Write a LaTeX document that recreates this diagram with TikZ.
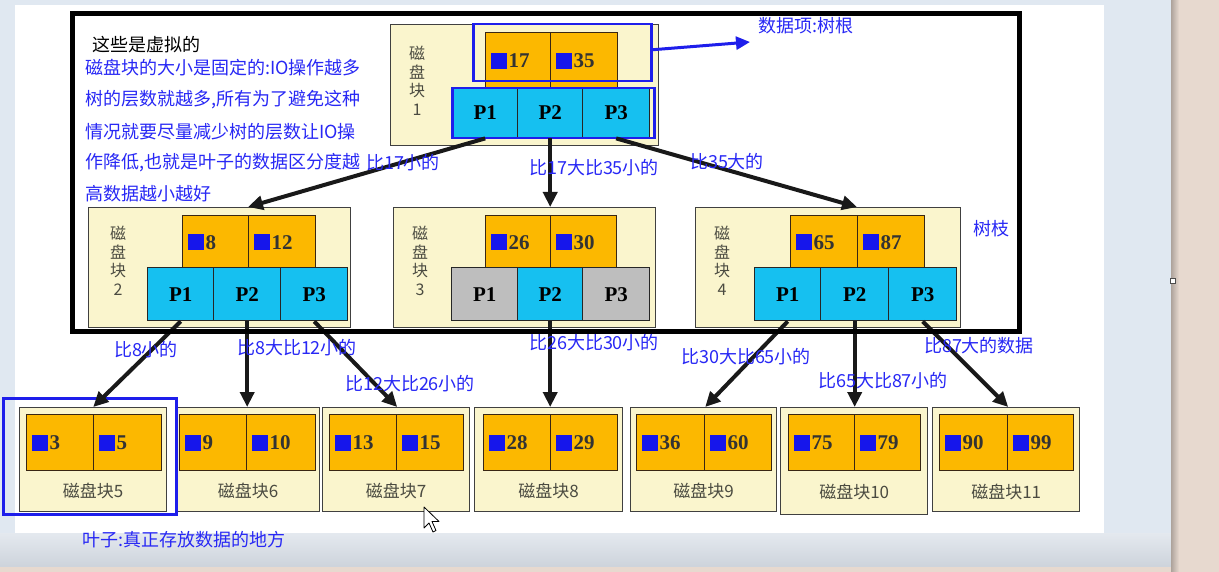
\documentclass[tikz,border=0pt]{standalone}
\usepackage{fontspec}
\setmainfont{Liberation Serif}
\newfontfamily\cjk{Noto Sans CJK SC}
\usetikzlibrary{arrows.meta}
\definecolor{blockyellow}{RGB}{250,245,205}
\definecolor{keyorange}{RGB}{252,184,0}
\definecolor{ptrcyan}{RGB}{22,192,240}
\definecolor{ptrgray}{RGB}{190,190,190}
\definecolor{sqblue}{RGB}{22,22,235}
\definecolor{labelblue}{RGB}{40,40,245}
\definecolor{hlblue}{RGB}{30,30,235}
\definecolor{bgblue}{RGB}{224,232,241}
\definecolor{bandtop}{RGB}{228,233,239}
\definecolor{bandbot}{RGB}{205,211,219}
\definecolor{bgbeige}{RGB}{231,217,207}
\definecolor{lbgray}{RGB}{75,75,65}
\newcommand{\keysq}{{\color{sqblue}\rule[-1pt]{16pt}{16pt}}}
\newcommand{\okey}[6]{%
  \node[keycell,minimum width=#4,minimum height=#5,anchor=north west] (#1) at (#2,#3) {};
  \node[keytxt,anchor=west] (#1t) at ([xshift=6pt]#1.west) {\keysq\hspace{1.5pt}#6};}
\newcommand{\pcell}[7]{%
  \node[ptrcell,fill=#7,minimum width=#4,minimum height=#5,anchor=north west] (#1) at (#2,#3) {#6};}
\tikzset{
  keycell/.style={draw=black!70!brown, fill=keyorange, line width=1.2pt, inner sep=0pt},
  ptrcell/.style={draw=black!85, line width=1.4pt, inner sep=0pt, font=\bfseries\fontsize{21}{21}\selectfont},
  keytxt/.style={inner sep=0pt, font=\bfseries\fontsize{21}{21}\selectfont, text=black!80},
  blockbox/.style={draw=black!75, fill=blockyellow, line width=1.4pt, inner sep=0pt},
  vlabel/.style={align=center, text=lbgray, font=\cjk\fontsize{16}{18.5}\selectfont, inner sep=0pt},
  leaflabel/.style={text=lbgray, font=\cjk\fontsize{17}{17}\selectfont, inner sep=0pt},
  note/.style={text=labelblue, font=\cjk\fontsize{18}{18}\selectfont, inner sep=0pt},
  treearrow/.style={line width=4pt, -{Triangle[length=15pt,width=14pt]}, black!90},
  bluearrow/.style={line width=3pt, -{Triangle[length=14pt,width=13pt]}, hlblue},
  hlbox/.style={draw=hlblue, line width=2.5pt, inner sep=0pt},
}
\begin{document}
\begin{tikzpicture}[x=1pt,y=-1pt]
\useasboundingbox (0,0) rectangle (1219,572);
% background
\fill[bgblue] (0,0) rectangle (1219,572);
\fill[white] (15,5) rectangle (1104,533);
\shade[top color=bandtop, bottom color=bandbot] (0,533) rectangle (1171,567);
\fill[bgbeige] (0,567) rectangle (1219,572);
\fill[bgbeige] (1171,0) rectangle (1219,572);
\shade[left color=black!25!bgbeige, right color=bgbeige] (1171,0) rectangle (1179,572);
\draw[fill=white, draw=black!70, line width=1pt] (1170.5,278.5) rectangle (1175.5,283.5);

% root block
\node[blockbox, minimum width=268, minimum height=121, anchor=north west] (b1) at (390,24) {};
\node[vlabel] (b1l) at (417,81) {磁\\盘\\块\\1};
\okey{k1a}{485}{32}{65}{56}{17}
\okey{k1b}{550}{32}{67}{56}{35}
\pcell{p1a}{452}{87}{65}{50}{P1}{ptrcyan}
\pcell{p1b}{517}{87}{65}{50}{P2}{ptrcyan}
\pcell{p1c}{582}{87}{67}{50}{P3}{ptrcyan}
\node[hlbox, minimum width=178, minimum height=57, anchor=north west] (h1) at (472,23) {};
\node[hlbox, minimum width=202, minimum height=50, anchor=north west] (h2) at (451,87) {};

% level 2
\node[blockbox, minimum width=262, minimum height=120, anchor=north west] (b2) at (88,207) {};
\node[vlabel] (b2l) at (118,261) {磁\\盘\\块\\2};
\okey{k2a}{182}{215}{66}{53}{8}
\okey{k2b}{248}{215}{67}{53}{12}
\pcell{p2a}{147}{267}{66}{53}{P1}{ptrcyan}
\pcell{p2b}{213}{267}{67}{53}{P2}{ptrcyan}
\pcell{p2c}{280}{267}{67}{53}{P3}{ptrcyan}

\node[blockbox, minimum width=262, minimum height=120, anchor=north west] (b3) at (393,207) {};
\node[vlabel] (b3l) at (420,261) {磁\\盘\\块\\3};
\okey{k3a}{485}{215}{65}{53}{26}
\okey{k3b}{550}{215}{66}{53}{30}
\pcell{p3a}{451}{267}{66}{53}{P1}{ptrgray}
\pcell{p3b}{517}{267}{65}{53}{P2}{ptrcyan}
\pcell{p3c}{582}{267}{67}{53}{P3}{ptrgray}

\node[blockbox, minimum width=265, minimum height=120, anchor=north west] (b4) at (695,207) {};
\node[vlabel] (b4l) at (722,261) {磁\\盘\\块\\4};
\okey{k4a}{790}{215}{67}{53}{65}
\okey{k4b}{857}{215}{67}{53}{87}
\pcell{p4a}{754}{267}{66}{53}{P1}{ptrcyan}
\pcell{p4b}{820}{267}{68}{53}{P2}{ptrcyan}
\pcell{p4c}{888}{267}{68}{53}{P3}{ptrcyan}

% leaves
\node[blockbox, minimum width=147, minimum height=104, anchor=north west] (b5) at (19,407) {};
\okey{k5a}{26}{414}{67}{56}{3}
\okey{k5b}{93}{414}{68}{56}{5}
\node[leaflabel] (b5l) at (b5.center |- 0,491) {磁盘块5};

\node[blockbox, minimum width=143, minimum height=104, anchor=north west] (b6) at (176,407) {};
\okey{k6a}{179}{414}{67}{56}{9}
\okey{k6b}{246}{414}{69}{56}{10}
\node[leaflabel] (b6l) at (b6.center |- 0,491) {磁盘块6};

\node[blockbox, minimum width=147, minimum height=104, anchor=north west] (b7) at (322,407) {};
\okey{k7a}{329}{414}{67}{56}{13}
\okey{k7b}{396}{414}{67}{56}{15}
\node[leaflabel] (b7l) at (b7.center |- 0,491) {磁盘块7};

\node[blockbox, minimum width=148, minimum height=104, anchor=north west] (b8) at (474,407) {};
\okey{k8a}{483}{414}{67}{56}{28}
\okey{k8b}{550}{414}{67}{56}{29}
\node[leaflabel] (b8l) at (b8.center |- 0,491) {磁盘块8};

\node[blockbox, minimum width=146, minimum height=104, anchor=north west] (b9) at (630,407) {};
\okey{k9a}{636}{414}{68}{56}{36}
\okey{k9b}{704}{414}{67}{56}{60}
\node[leaflabel] (b9l) at (b9.center |- 0,491) {磁盘块9};

\node[blockbox, minimum width=147, minimum height=107, anchor=north west] (b10) at (780,407) {};
\okey{k10a}{788}{414}{66}{56}{75}
\okey{k10b}{854}{414}{66}{56}{79}
\node[leaflabel] (b10l) at (b10.center |- 0,492) {磁盘块10};

\node[blockbox, minimum width=147, minimum height=104, anchor=north west] (b11) at (932,407) {};
\okey{k11a}{939}{414}{68}{56}{90}
\okey{k11b}{1007}{414}{66}{56}{99}
\node[leaflabel] (b11l) at (b11.center |- 0,492) {磁盘块11};

\node[hlbox, minimum width=173, minimum height=116, anchor=north west] (h5) at (2,397) {};

% arrows
\draw[treearrow] (p1a.south) -- (b2.north -| k2b.north west);
\draw[treearrow] (p1b.south) -- (p1b.south |- b3.north);
\draw[treearrow] (p1c.south) -- (b4.north -| k4b.north west);
\draw[treearrow] (p2a.south) -- (b5.north);
\draw[treearrow] (p2b.south) -- (p2b.south |- b6.north);
\draw[treearrow] (p2c.south) -- (b7.north -| k7a.north east);
\draw[treearrow] (p3b.south) -- (p3b.south |- b8.north);
\draw[treearrow] (p4a.south) -- (b9.north -| k9a.north east);
\draw[treearrow] (p4b.south) -- (p4b.south |- b10.north);
\draw[treearrow] (p4c.south) -- (b11.north -| k11a.north east);
\coordinate (rootarr) at (750,42);
\draw[bluearrow] ([yshift=3pt]h1.east) -- (rootarr);

% virtual frame
\node[draw=black, line width=5pt, minimum width=947, minimum height=318, anchor=north west, inner sep=0pt] (frame) at (69.5,11) {};

% texts
\node[note, text=black, anchor=west] (t0) at (92,45) {这些是虚拟的};
\node[note, anchor=west] (t1) at (85,68) {磁盘块的大小是固定的:IO操作越多};
\node[note, anchor=west] (t2) at (85,100) {树的层数就越多,所有为了避免这种};
\node[note, anchor=west] (t3) at (85,132) {情况就要尽量减少树的层数让IO操};
\node[note, anchor=west] (t4) at (85,163) {作降低,也就是叶子的数据区分度越};
\node[note, anchor=west] (t5) at (85,194) {高数据越小越好};
\node[note, anchor=west] (troot) at (758,26) {数据项:树根};
\node[note, anchor=west] (tbranch) at (973,229) {树枝};
\node[note] (l1) at (403,163) {比17小的};
\node[note] (l2) at (594,168) {比17大比35小的};
\node[note] (l3) at (727,162) {比35大的};
\node[note] (l4) at (146,350) {比8小的};
\node[note] (l5) at (297,348) {比8大比12小的};
\node[note] (l6) at (410,384) {比12大比26小的};
\node[note] (l7) at (594,343) {比26大比30小的};
\node[note] (l8) at (746,357) {比30大比65小的};
\node[note] (l9) at (883,381) {比65大比87小的};
\node[note] (l10) at (979,346) {比87大的数据};
\node[note, anchor=west] (tleaf) at (82,540) {叶子:真正存放数据的地方};

% mouse pointer
\draw[fill=white, line width=0.8pt, line join=round] (424,507) -- ++(0,21) -- ++(5,-5) -- ++(4,9) -- ++(3,-1.5) -- ++(-4,-9) -- ++(7,0) -- cycle;
\end{tikzpicture}
\end{document}
